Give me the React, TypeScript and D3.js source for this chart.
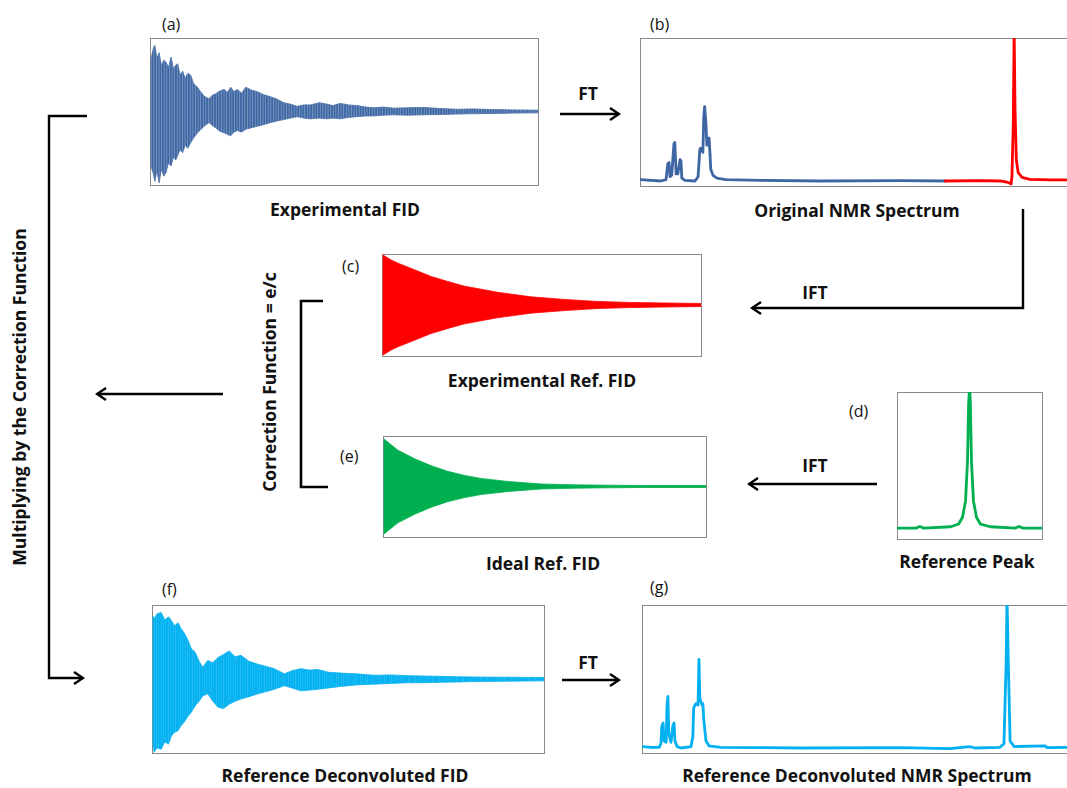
import React from "react";
import * as d3 from "d3";

// ---------------- DATA ----------------
// (a) Experimental FID: envelope (fraction of acquisition time, normalised amplitude)
const fidATime = [0, 0.006, 0.010, 0.015, 0.021, 0.027, 0.033, 0.039, 0.045, 0.052, 0.058, 0.064, 0.069, 0.075, 0.082, 0.088, 0.095, 0.103, 0.110, 0.120, 0.128, 0.137, 0.150, 0.158, 0.167, 0.178, 0.189, 0.197, 0.206, 0.214, 0.223, 0.234, 0.245, 0.26, 0.275, 0.29, 0.309, 0.325, 0.343, 0.36, 0.378, 0.395, 0.412, 0.435, 0.455, 0.47, 0.489, 0.51, 0.532, 0.555, 0.575, 0.6, 0.627, 0.66, 0.704, 0.75, 0.790, 0.83, 0.876, 0.93, 1.0];
const fidAUpper = [0.71, 0.86, 0.90, 0.72, 0.80, 0.62, 0.70, 0.67, 0.60, 0.74, 0.58, 0.63, 0.65, 0.50, 0.55, 0.45, 0.52, 0.49, 0.38, 0.33, 0.27, 0.21, 0.17, 0.22, 0.24, 0.28, 0.30, 0.26, 0.33, 0.27, 0.30, 0.25, 0.33, 0.29, 0.27, 0.23, 0.20, 0.17, 0.12, 0.10, 0.07, 0.09, 0.09, 0.12, 0.10, 0.08, 0.11, 0.09, 0.08, 0.06, 0.05, 0.06, 0.045, 0.05, 0.055, 0.04, 0.03, 0.035, 0.027, 0.022, 0.018];
const fidALower = [-0.74, -0.85, -0.95, -0.80, -0.97, -0.78, -0.88, -0.83, -0.70, -0.74, -0.62, -0.66, -0.60, -0.52, -0.56, -0.46, -0.50, -0.42, -0.36, -0.29, -0.25, -0.20, -0.15, -0.19, -0.22, -0.27, -0.29, -0.31, -0.33, -0.28, -0.26, -0.28, -0.24, -0.22, -0.20, -0.18, -0.15, -0.13, -0.11, -0.09, -0.07, -0.09, -0.10, -0.09, -0.10, -0.09, -0.10, -0.08, -0.07, -0.06, -0.06, -0.05, -0.045, -0.05, -0.045, -0.04, -0.035, -0.03, -0.027, -0.022, -0.018];

// (c) Experimental Ref. FID envelope
const fidCTime = [0, 0.026, 0.047, 0.099, 0.151, 0.204, 0.256, 0.308, 0.36, 0.465, 0.569, 0.673, 0.778, 0.882, 1.0];
const fidCAmp = [0.98, 0.88, 0.82, 0.69, 0.56, 0.46, 0.37, 0.31, 0.25, 0.16, 0.11, 0.07, 0.05, 0.04, 0.03];

// (e) Ideal Ref. FID envelope
const fidETime = [0, 0.043, 0.095, 0.147, 0.198, 0.25, 0.301, 0.384, 0.487, 0.59, 0.694, 0.797, 1.0];
const fidEAmp = [0.94, 0.72, 0.55, 0.41, 0.30, 0.22, 0.16, 0.10, 0.05, 0.033, 0.026, 0.02, 0.02];

// (f) Reference Deconvoluted FID envelope
const fidFTime = [0, 0.003, 0.010, 0.021, 0.030, 0.040, 0.047, 0.055, 0.064, 0.072, 0.080, 0.090, 0.098, 0.108, 0.118, 0.127, 0.140, 0.153, 0.166, 0.18, 0.195, 0.21, 0.225, 0.245, 0.268, 0.29, 0.310, 0.336, 0.355, 0.378, 0.40, 0.421, 0.45, 0.480, 0.52, 0.565, 0.61, 0.650, 0.69, 0.735, 0.78, 0.820, 0.9, 1.0];
const fidFUpper = [0.85, 0.81, 0.88, 0.90, 0.80, 0.84, 0.79, 0.72, 0.76, 0.68, 0.62, 0.52, 0.41, 0.36, 0.24, 0.16, 0.25, 0.22, 0.29, 0.33, 0.38, 0.30, 0.32, 0.24, 0.20, 0.17, 0.14, 0.07, 0.11, 0.14, 0.12, 0.13, 0.09, 0.08, 0.07, 0.05, 0.055, 0.045, 0.04, 0.036, 0.03, 0.027, 0.024, 0.02];
const fidFLower = [-0.90, -0.99, -0.93, -0.95, -0.85, -0.88, -0.77, -0.72, -0.70, -0.63, -0.58, -0.50, -0.45, -0.36, -0.30, -0.23, -0.20, -0.30, -0.38, -0.40, -0.34, -0.30, -0.27, -0.24, -0.20, -0.17, -0.14, -0.09, -0.12, -0.16, -0.15, -0.14, -0.12, -0.10, -0.08, -0.07, -0.06, -0.05, -0.05, -0.045, -0.04, -0.035, -0.03, -0.025];

// (b) Original NMR spectrum (frequency axis 0-100, normalised intensity)
const specBBlueShift = [0, 2.3, 4.5, 5.7, 6.1, 6.4, 6.6, 7.0, 7.5, 7.7, 8.0, 8.4, 8.9, 9.1, 9.3, 10, 12.3, 13.0, 13.4, 13.6, 14.1, 14.3, 14.5, 14.8, 15.0, 15.2, 15.5, 15.7, 15.9, 16.4, 17.3, 19.3, 27.3, 40.9, 59.1, 69.3];
const specBBlueInt = [0.01, 0.005, 0.0, 0.01, 0.12, 0.13, 0.03, 0.04, 0.26, 0.27, 0.05, 0.05, 0.15, 0.14, 0.02, 0.005, 0.0, 0.03, 0.22, 0.23, 0.2, 0.45, 0.52, 0.4, 0.25, 0.29, 0.30, 0.2, 0.08, 0.04, 0.02, 0.01, 0.005, 0.0, 0.003, 0.0];
const specBRedShift = [69.3, 77.3, 81.8, 83.6, 84.3, 84.5, 84.8, 85.0, 85.2, 85.5, 85.9, 86.8, 88.6, 93.2, 100];
const specBRedInt = [0.0, 0.003, 0.0, -0.01, -0.02, 0.03, 0.4, 1.05, 0.5, 0.15, 0.06, 0.025, 0.012, 0.008, 0.008];

// (d) Reference peak
const specDShift = [0, 12.4, 15.2, 17.9, 36.6, 42.1, 44.8, 46.9, 48.3, 49.0, 49.7, 50.3, 51.0, 52.4, 54.5, 57.2, 64.1, 81.4, 84.1, 86.9, 100];
const specDInt = [0.0, 0.0, 0.012, 0.0, 0.01, 0.03, 0.08, 0.2, 0.5, 0.9, 1.05, 0.9, 0.5, 0.2, 0.08, 0.03, 0.01, 0.0, 0.012, 0.0, 0.0];

// (g) Reference deconvoluted NMR spectrum
const specGShift = [0, 1.8, 3.7, 4.1, 4.3, 4.6, 4.8, 5.3, 5.5, 5.7, 5.9, 6.4, 6.8, 7.1, 7.3, 7.8, 8.7, 11.0, 11.4, 11.6, 12.1, 12.6, 12.8, 13.0, 13.5, 13.7, 13.9, 14.4, 15.1, 17.8, 36.1, 58.9, 70.3, 74.7, 76.0, 81.7, 82.6, 83.1, 83.3, 83.6, 84.0, 84.9, 92.0, 92.5, 100];
const specGInt = [0.01, 0.005, 0.005, 0.03, 0.15, 0.175, 0.05, 0.04, 0.3, 0.36, 0.1, 0.04, 0.15, 0.175, 0.05, 0.01, 0.0, 0.01, 0.08, 0.28, 0.31, 0.3, 0.62, 0.35, 0.3, 0.31, 0.2, 0.05, 0.015, 0.005, 0.0, 0.003, -0.005, 0.01, 0.0, 0.005, 0.03, 0.6, 1.05, 0.6, 0.05, 0.01, 0.015, 0.003, 0.005];

// Text
const panelLetters = ["(a)", "(b)", "(c)", "(d)", "(e)", "(f)", "(g)"];
const panelTitles = ["Experimental FID", "Original NMR Spectrum", "Experimental Ref. FID", "Reference Peak", "Ideal Ref. FID", "Reference Deconvoluted FID", "Reference Deconvoluted NMR Spectrum"];

// ---------------- LAYOUT ----------------
type Box = { x0: number; x1: number; y0: number; y1: number };
const BOX_A: Box = { x0: 150, x1: 538, y0: 38, y1: 185 };
const BOX_B: Box = { x0: 640, x1: 1080, y0: 38, y1: 186 };
const BOX_C: Box = { x0: 382, x1: 701, y0: 254, y1: 356 };
const BOX_D: Box = { x0: 897, x1: 1042, y0: 392, y1: 539 };
const BOX_E: Box = { x0: 383, x1: 706, y0: 436, y1: 537 };
const BOX_F: Box = { x0: 152, x1: 544, y0: 605, y1: 753 };
const BOX_G: Box = { x0: 642, x1: 1080, y0: 605, y1: 753 };

const FONT = "'Open Sans', 'DejaVu Sans', sans-serif";
const BLUE = "#3d66a3";
const RED = "#ff0000";
const GREEN = "#00b050";
const CYAN = "#00b0f0";

function Frame({ box, id }: { box: Box; id: string }) {
  return (
    <>
      <defs>
        <clipPath id={id}>
          <rect x={box.x0} y={box.y0} width={box.x1 - box.x0} height={box.y1 - box.y0} />
        </clipPath>
      </defs>
      <rect x={box.x0 + 0.5} y={box.y0 + 0.5} width={box.x1 - box.x0} height={box.y1 - box.y0} fill="#fff" stroke="#8a8a8a" strokeWidth={1} />
    </>
  );
}

function Fid({ box, id, time, upper, lower, color, streak }: { box: Box; id: string; time: number[]; upper: number[]; lower: number[]; color: string; streak?: string }) {
  const x = d3.scaleLinear().domain([0, 1]).range([box.x0 + 1, box.x1]);
  const y = d3.scaleLinear().domain([-1, 1]).range([box.y1, box.y0]);
  const area = d3
    .area<number>()
    .x((_, i) => x(time[i]))
    .y0((_, i) => y(lower[i]))
    .y1((_, i) => y(upper[i]))
    .curve(d3.curveLinear);
  const p = area(time) || "";
  return (
    <g>
      <Frame box={box} id={id} />
      <g clipPath={`url(#${id})`}>
        <path d={p} fill={color} stroke={color} strokeWidth={0.8} />
        {streak && <path d={p} fill={`url(#${streak})`} />}
      </g>
    </g>
  );
}

function Spectrum({ box, id, domainY, series }: { box: Box; id: string; domainY: [number, number]; series: { xs: number[]; ys: number[]; color: string }[] }) {
  const x = d3.scaleLinear().domain([0, 100]).range([box.x0 + 1, box.x1]);
  const y = d3.scaleLinear().domain(domainY).range([box.y1, box.y0]);
  return (
    <g>
      <Frame box={box} id={id} />
      <g clipPath={`url(#${id})`}>
        {series.map((s, k) => {
          const pts = s.xs.map((v, i) => [x(v), y(s.ys[i])] as [number, number]);
          return <path key={k} d={d3.line()(pts) || ""} fill="none" stroke={s.color} strokeWidth={2.8} strokeLinejoin="round" strokeLinecap="round" />;
        })}
      </g>
    </g>
  );
}

export default function App() {
  const bold = { fontFamily: FONT, fontWeight: 700, fontSize: 17.5, fill: "#111" } as React.CSSProperties;
  const reg = { fontFamily: FONT, fontWeight: 400, fontSize: 16, fill: "#111" } as React.CSSProperties;
  const arrow = { stroke: "#000", strokeWidth: 2.4, fill: "none", markerEnd: "url(#arrowHead)" } as React.CSSProperties;
  const plain = { stroke: "#000", strokeWidth: 2.6, fill: "none" } as React.CSSProperties;
  const negC = fidCAmp.map((a) => -a);
  const negE = fidEAmp.map((a) => -a);
  return (
    <svg width={1067} height={788} style={{ position: "absolute", left: 0, top: 0, background: "#fff" }}>
      <defs>
        <marker id="arrowHead" viewBox="-10 -7 12 14" refX={0} refY={0} markerWidth={12} markerHeight={14} markerUnits="userSpaceOnUse" orient="auto">
          <path d="M-9,-6 L0,0 L-9,6" fill="none" stroke="#000" strokeWidth={2.4} strokeLinejoin="miter" />
        </marker>
        <pattern id="streakA" width={2.6} height={20} patternUnits="userSpaceOnUse">
          <rect x={0} y={0} width={0.9} height={20} fill="#ffffff" opacity={0.3} />
        </pattern>
        <pattern id="streakF" width={2.4} height={20} patternUnits="userSpaceOnUse">
          <rect x={0} y={0} width={0.8} height={20} fill="#ffffff" opacity={0.16} />
        </pattern>
      </defs>
      <rect x={0} y={0} width={1067} height={788} fill="#fff" />

      {/* (a) */}
      <Fid box={BOX_A} id="clipA" time={fidATime} upper={fidAUpper} lower={fidALower} color={BLUE} streak="streakA" />
      <text x={162} y={30} style={reg}>{panelLetters[0]}</text>
      <text x={345} y={216} textAnchor="middle" style={bold}>{panelTitles[0]}</text>

      {/* (b) */}
      <Spectrum box={BOX_B} id="clipB" domainY={[-0.035, 1]} series={[
        { xs: specBBlueShift, ys: specBBlueInt, color: BLUE },
        { xs: specBRedShift, ys: specBRedInt, color: RED },
      ]} />
      <text x={650} y={30} style={reg}>{panelLetters[1]}</text>
      <text x={857} y={217} textAnchor="middle" style={bold}>{panelTitles[1]}</text>

      {/* FT top */}
      <text x={588} y={100} textAnchor="middle" style={bold}>FT</text>
      <path d="M560,114 H619" style={arrow} />

      {/* IFT top */}
      <path d="M1023,209 V308 H752" style={arrow} />
      <text x={815} y={299} textAnchor="middle" style={bold}>IFT</text>

      {/* (c) */}
      <Fid box={BOX_C} id="clipC" time={fidCTime} upper={fidCAmp} lower={negC} color={RED} />
      <text x={342} y={272} style={reg}>{panelLetters[2]}</text>
      <text x={542} y={387} textAnchor="middle" style={bold}>{panelTitles[2]}</text>

      {/* (d) */}
      <Spectrum box={BOX_D} id="clipD" domainY={[-0.08, 1]} series={[{ xs: specDShift, ys: specDInt, color: GREEN }]} />
      <text x={849} y={417} style={reg}>{panelLetters[3]}</text>
      <text x={967} y={568} textAnchor="middle" style={bold}>{panelTitles[3]}</text>

      {/* IFT bottom */}
      <path d="M877,484 H749" style={arrow} />
      <text x={815} y={472} textAnchor="middle" style={bold}>IFT</text>

      {/* (e) */}
      <Fid box={BOX_E} id="clipE" time={fidETime} upper={fidEAmp} lower={negE} color={GREEN} />
      <text x={340} y={462} style={reg}>{panelLetters[4]}</text>
      <text x={543} y={570} textAnchor="middle" style={bold}>{panelTitles[4]}</text>

      {/* correction bracket */}
      <path d="M323,301 H301 V487 H328" style={plain} />
      <text transform="translate(270,382) rotate(-90)" textAnchor="middle" dy="0.36em" style={bold}>Correction Function = e/c</text>

      {/* middle arrow to the left */}
      <path d="M223,394 H97" style={arrow} />

      {/* left bracket */}
      <path d="M87,116 H49 V678 H83" style={arrow} />
      <text transform="translate(20,397) rotate(-90)" textAnchor="middle" dy="0.36em" style={bold}>Multiplying by the Correction Function</text>

      {/* (f) */}
      <Fid box={BOX_F} id="clipF" time={fidFTime} upper={fidFUpper} lower={fidFLower} color={CYAN} streak="streakF" />
      <text x={162} y={595} style={reg}>{panelLetters[5]}</text>
      <text x={345} y={782} textAnchor="middle" style={bold}>{panelTitles[5]}</text>

      {/* FT bottom */}
      <text x={588} y={669} textAnchor="middle" style={bold}>FT</text>
      <path d="M562,680 H619" style={arrow} />

      {/* (g) */}
      <Spectrum box={BOX_G} id="clipG" domainY={[-0.035, 1]} series={[{ xs: specGShift, ys: specGInt, color: CYAN }]} />
      <text x={650} y={593} style={reg}>{panelLetters[6]}</text>
      <text x={857} y={782} textAnchor="middle" style={bold}>{panelTitles[6]}</text>
    </svg>
  );
}
